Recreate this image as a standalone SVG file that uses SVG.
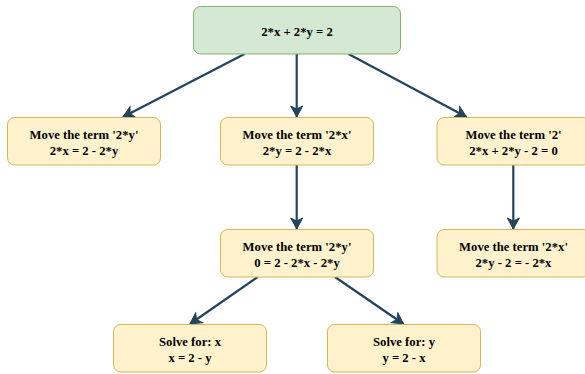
<svg xmlns="http://www.w3.org/2000/svg" width="585" height="374" viewBox="0 0 585 374">
<style>
.root{fill:#d5e8d4;stroke:#82b366;stroke-width:1}
.box{fill:#fff2cc;stroke:#d6b656;stroke-width:1}
text{font-family:"Liberation Serif","Times New Roman",serif;font-weight:bold;font-size:12.7px;fill:#000;text-anchor:middle}
.edge{fill:none;stroke:#23445d;stroke-width:2.2}
</style>
<defs>
<marker id="arr" markerUnits="userSpaceOnUse" markerWidth="14" markerHeight="14" viewBox="0 0 14 14" refX="12" refY="7" orient="auto">
<path d="M1,1 L12,7 L1,13 L4,7 Z" fill="#23445d" stroke="#23445d" stroke-width="1"/>
</marker>
</defs>
<g id="connectors">
<path class="edge" d="M244.5,54 L123,117" marker-end="url(#arr)"/>
<path class="edge" d="M296.7,54 L296.7,117" marker-end="url(#arr)"/>
<path class="edge" d="M348.5,54 L466.5,117" marker-end="url(#arr)"/>
<path class="edge" d="M296.7,165 L296.7,229" marker-end="url(#arr)"/>
<path class="edge" d="M513.3,165 L513.3,229" marker-end="url(#arr)"/>
<path class="edge" d="M257.7,277 L190,324" marker-end="url(#arr)"/>
<path class="edge" d="M335,277 L403.5,324" marker-end="url(#arr)"/>
</g>
<g id="root">
<rect class="root" x="193.5" y="6.5" width="207" height="47.5" rx="7"/>
<text x="297" y="35.5">2*x + 2*y = 2</text>
</g>
<g id="n1">
<rect class="box" x="7.5" y="117.5" width="153" height="47.5" rx="7"/>
<text x="84" y="138.5">Move the term '2*y'</text>
<text x="84" y="155">2*x = 2 - 2*y</text>
</g>
<g id="n2">
<rect class="box" x="220.5" y="117.5" width="153" height="47.5" rx="7"/>
<text x="297" y="138.5">Move the term '2*x'</text>
<text x="297" y="155">2*y = 2 - 2*x</text>
</g>
<g id="n3">
<rect class="box" x="437" y="117.5" width="153" height="47.5" rx="7"/>
<text x="513.5" y="138.5">Move the term '2'</text>
<text x="513.5" y="155">2*x + 2*y - 2 = 0</text>
</g>
<g id="n4">
<rect class="box" x="220.5" y="229.5" width="153" height="47.5" rx="7"/>
<text x="297" y="250.5">Move the term '2*y'</text>
<text x="297" y="267">0 = 2 - 2*x - 2*y</text>
</g>
<g id="n5">
<rect class="box" x="437" y="229.5" width="153" height="47.5" rx="7"/>
<text x="513.5" y="250.5">Move the term '2*x'</text>
<text x="513.5" y="267">2*y - 2 = - 2*x</text>
</g>
<g id="n6">
<rect class="box" x="113.5" y="324.5" width="153" height="47.5" rx="7"/>
<text x="190" y="345.5">Solve for: x</text>
<text x="190" y="362">x = 2 - y</text>
</g>
<g id="n7">
<rect class="box" x="327.5" y="324.5" width="153" height="47.5" rx="7"/>
<text x="404" y="345.5">Solve for: y</text>
<text x="404" y="362">y = 2 - x</text>
</g>
</svg>
